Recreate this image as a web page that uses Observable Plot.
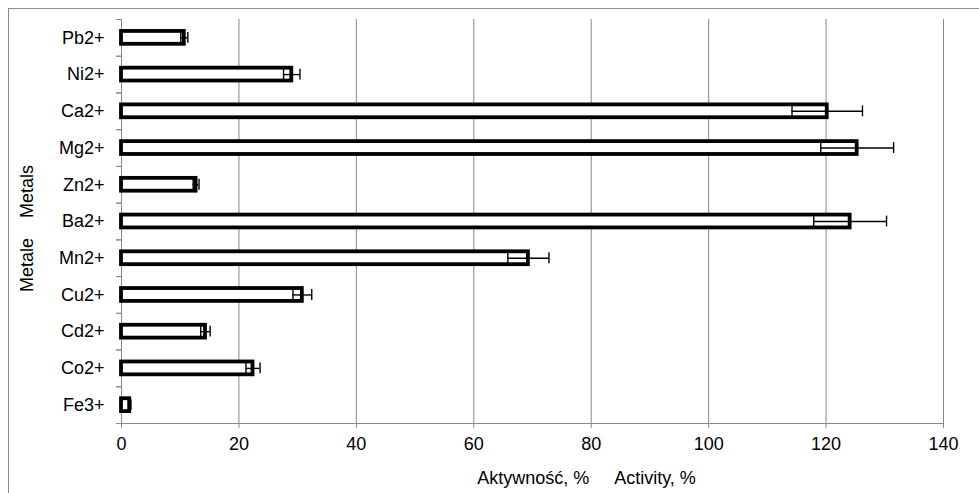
<!DOCTYPE html>
<html>
<head>
<meta charset="utf-8">
<script src="https://cdn.jsdelivr.net/npm/d3@7"></script>
<script src="https://cdn.jsdelivr.net/npm/@observablehq/plot@0.6"></script>
<style>
  html, body { margin: 0; padding: 0; background: #fff; overflow: hidden; }
  #wrap { position: relative; width: 979px; height: 493px; }
  #border { position: absolute; left: 8px; top: 8px; width: 1200px; height: 1200px;
            border-top: 1px solid #8a8a8a; border-left: 1px solid #8a8a8a; box-sizing: border-box; }
  #chart { position: absolute; left: 0; top: 0; }
</style>
</head>
<body>
<div id="wrap"><div id="border"></div><div id="chart"></div></div>
<script>
const metals = ["Pb2+", "Ni2+", "Ca2+", "Mg2+", "Zn2+", "Ba2+", "Mn2+", "Cu2+", "Cd2+", "Co2+", "Fe3+"];
const activity = [10.7, 29.0, 120.2, 125.3, 12.7, 124.1, 69.3, 30.8, 14.3, 22.4, 1.4];
const errors = [0.6, 1.4, 6.0, 6.2, 0.5, 6.2, 3.5, 1.6, 0.8, 1.2, 0.2];
const xTicks = [0, 20, 40, 60, 80, 100, 120, 140];
const gridTicks = [20, 40, 60, 80, 100, 120, 140];
const xTitle = "Aktywność, %\u00a0\u00a0\u00a0\u00a0\u00a0Activity, %";
const yTitle = "Metale\u00a0\u00a0\u00a0\u00a0Metals";

const data = metals.map((m, i) => ({metal: m, value: activity[i], err: errors[i]}));

const W = 979, H = 493, mt = 19, mb = 70, ml = 121, mr = 36;
const step = (H - mt - mb) / metals.length;
const gray = "#888888";

const chart = Plot.plot({
  width: W, height: H,
  marginLeft: ml, marginRight: mr, marginTop: mt, marginBottom: mb,
  style: {fontFamily: "'Liberation Sans', Arial, sans-serif", fontSize: "18px", color: "black", background: "transparent"},
  x: {domain: [0, 140], ticks: xTicks},
  y: {type: "band", domain: metals, paddingInner: 0.65, paddingOuter: 0.325, round: false},
  marks: [
    Plot.ruleX(gridTicks, {stroke: gray, strokeWidth: 1}),
    Plot.ruleX([0], {stroke: gray, strokeWidth: 1}),
    Plot.frame({anchor: "bottom", stroke: gray, strokeWidth: 1}),
    Plot.axisX({ticks: xTicks, tickSize: 5, tickPadding: 9, stroke: gray, fill: "black", label: null}),
    Plot.axisY({tickSize: 0, tickPadding: 17, fill: "black", label: null}),
    Plot.axisY({tickSize: 5, tickFormat: () => "", stroke: gray, label: null, dy: -step / 2}),
    Plot.axisY({tickSize: 5, tickFormat: () => "", stroke: gray, label: null, dy: step / 2}),
    Plot.barX(data, {x: "value", y: "metal", fill: "white", stroke: "black", strokeWidth: 3.8}),
    Plot.ruleY(data, {y: "metal", x1: d => d.value - d.err, x2: d => d.value + d.err, stroke: "black", strokeWidth: 1.4}),
    Plot.tickX(data, {x: d => d.value - d.err, y: "metal", stroke: "black", strokeWidth: 1.4, insetTop: 1, insetBottom: 1}),
    Plot.tickX(data, {x: d => d.value + d.err, y: "metal", stroke: "black", strokeWidth: 1.4, insetTop: 1, insetBottom: 1}),
    Plot.text([xTitle], {frameAnchor: "bottom", textAnchor: "middle", lineAnchor: "middle", dx: 54, dy: 55, fill: "black", fontSize: 18}),
    Plot.text([yTitle], {frameAnchor: "left", textAnchor: "middle", lineAnchor: "middle", rotate: -90, dx: -94, dy: 7, fill: "black", fontSize: 18})
  ]
});
document.getElementById("chart").appendChild(chart);
</script>
</body>
</html>
